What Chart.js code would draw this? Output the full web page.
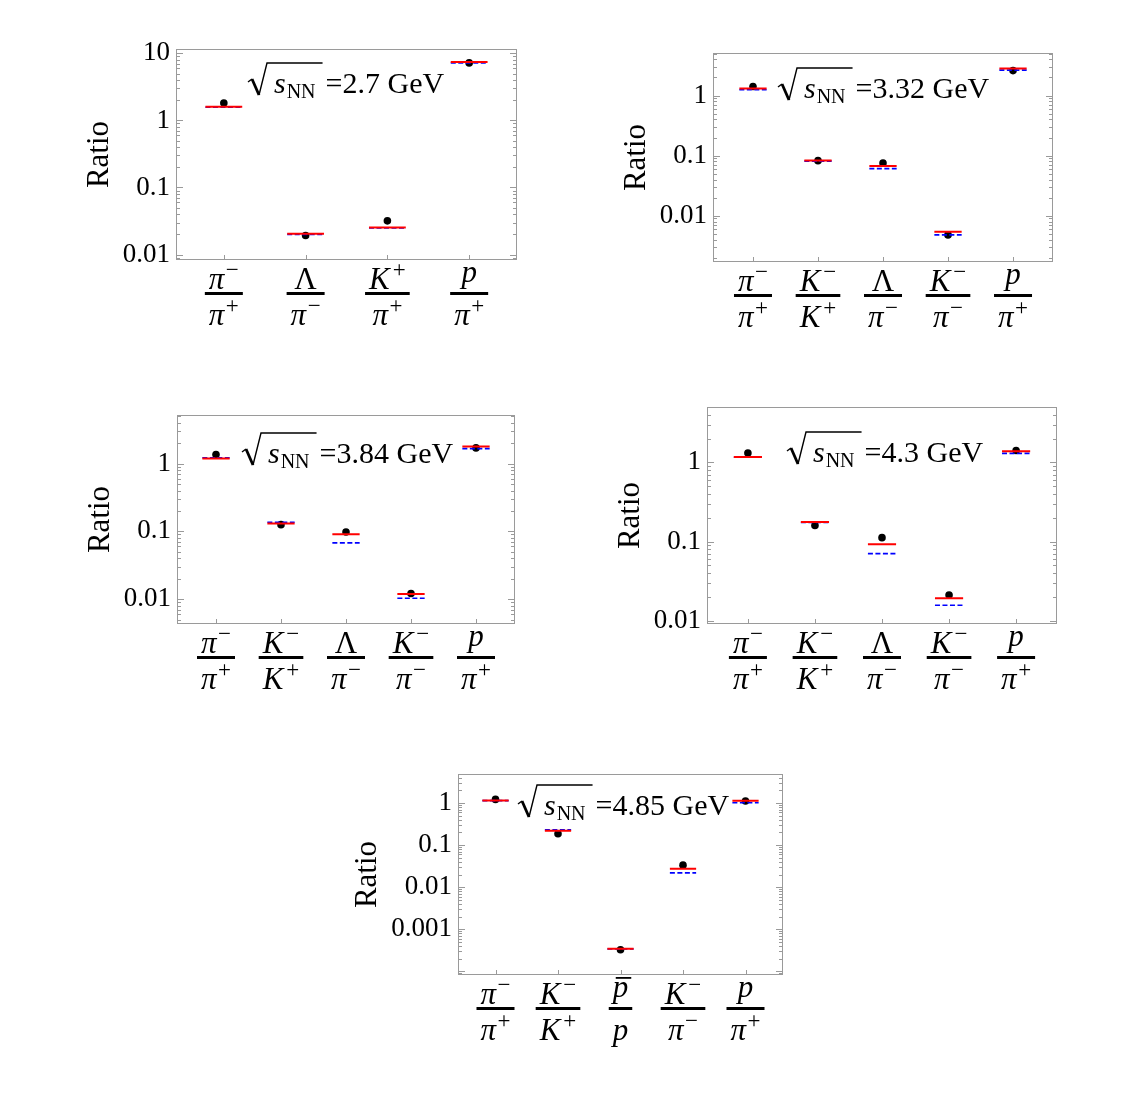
<!DOCTYPE html>
<html>
<head>
<meta charset="utf-8">
<script src="https://cdn.jsdelivr.net/npm/chart.js@4.4.1/dist/chart.umd.min.js"></script>
<style>
    body { margin: 0; background: #fff; }
    #wrap { position: relative; width: 1146px; height: 1097px; background: #fff; }
    canvas { position: absolute; }
</style>
</head>
<body>
<div id="wrap"></div>
<script>
const serif = '"Liberation Serif", "Times New Roman", serif';

// sqrt(s_NN) = 2.7 GeV
const cats27 = ["π⁻/π⁺", "Λ/π⁻", "K⁺/π⁺", "p/π⁺"];
const data27 = [1.82, 0.0192, 0.0318, 7.2];
const red27 = [1.6, 0.0204, 0.0253, 7.4];
const blue27 = [1.57, 0.0200, 0.0250, 7.2];
const ticks27 = [0.01, 0.1, 1, 10];
const tickLabels27 = ["0.01", "0.1", "1", "10"];

// 3.32 GeV
const cats332 = ["π⁻/π⁺", "K⁻/K⁺", "Λ/π⁻", "K⁻/π⁻", "p/π⁺"];
const data332 = [1.41, 0.0825, 0.0755, 0.0048, 2.6];
const red332 = [1.31, 0.083, 0.0673, 0.0054, 2.82];
const blue332 = [1.25, 0.081, 0.0607, 0.0048, 2.65];
const ticks332 = [0.01, 0.1, 1];
const tickLabels332 = ["0.01", "0.1", "1"];

// 3.84 GeV
const cats384 = ["π⁻/π⁺", "K⁻/K⁺", "Λ/π⁻", "K⁻/π⁻", "p/π⁺"];
const data384 = [1.36, 0.1256, 0.098, 0.0121, 1.70];
const red384 = [1.19, 0.13, 0.0904, 0.0119, 1.79];
const blue384 = [1.22, 0.136, 0.0676, 0.0103, 1.66];
const ticks384 = [0.01, 0.1, 1];
const tickLabels384 = ["0.01", "0.1", "1"];

// 4.3 GeV
const cats43 = ["π⁻/π⁺", "K⁻/K⁺", "Λ/π⁻", "K⁻/π⁻", "p/π⁺"];
const data43 = [1.31, 0.16, 0.112, 0.0211, 1.41];
const red43 = [1.17, 0.176, 0.0927, 0.0192, 1.38];
const blue43 = [1.16, 0.174, 0.0705, 0.0157, 1.30];
const ticks43 = [0.01, 0.1, 1];
const tickLabels43 = ["0.01", "0.1", "1"];

// 4.85 GeV
const cats485 = ["π⁻/π⁺", "K⁻/K⁺", "p\u0304/p", "K⁻/π⁻", "p/π⁺"];
const data485 = [1.22, 0.186, 0.000327, 0.0334, 1.12];
const red485 = [1.15, 0.219, 0.000345, 0.0273, 1.14];
const blue485 = [1.14, 0.23, 0.00034, 0.0219, 1.02];
const ticks485 = [0.001, 0.01, 0.1, 1];
const tickLabels485 = ["0.001", "0.01", "0.1", "1"];

const panels = [
    { energy: "2.7", cats: cats27, data: data27, red: red27, blue: blue27, ticks: ticks27, tickLabels: tickLabels27,
      frame: { l: 176, t: 49, r: 517, b: 260 }, yRange: [0.0083, 11.6], xRange: [0.415, 4.585], half: 0.225, yW: 95, label: [72, 44] },
    { energy: "3.32", cats: cats332, data: data332, red: red332, blue: blue332, ticks: ticks332, tickLabels: tickLabels332,
      frame: { l: 713, t: 53, r: 1053, b: 262 }, yRange: [0.0017, 5.1], xRange: [0.385, 5.615], half: 0.21, yW: 95, label: [65, 45] },
    { energy: "3.84", cats: cats384, data: data384, red: red384, blue: blue384, ticks: ticks384, tickLabels: tickLabels384,
      frame: { l: 177, t: 415, r: 515, b: 624 }, yRange: [0.0043, 5.2], xRange: [0.4, 5.6], half: 0.21, yW: 95, label: [65, 48] },
    { energy: "4.3", cats: cats43, data: data43, red: red43, blue: blue43, ticks: ticks43, tickLabels: tickLabels43,
      frame: { l: 707, t: 407, r: 1057, b: 624 }, yRange: [0.0091, 5.0], xRange: [0.39, 5.61], half: 0.21, yW: 95, label: [80, 55] },
    { energy: "4.85", cats: cats485, data: data485, red: red485, blue: blue485, ticks: ticks485, tickLabels: tickLabels485,
      frame: { l: 458, t: 774, r: 783, b: 975 }, yRange: [0.000082, 4.9], xRange: [0.4, 5.6], half: 0.21, yW: 109, label: [60, 41] },
];

function segments(vals, half) {
    const pts = [];
    vals.forEach((v, i) => {
        pts.push({ x: i + 1 - half, y: v }, { x: i + 1 + half, y: v }, { x: i + 1.5, y: null });
    });
    return pts;
}

function sideItems(s) {
    const items = [];
    for (const ch of s) {
        if (ch === "⁻" || ch === "⁺") items.push({ t: ch === "⁻" ? "\u2212" : "+", sup: true });
        else if (ch === "\u0304") items[items.length - 1].over = true;
        else items.push({ t: ch, italic: ch !== "Λ" });
    }
    return items;
}

function fontOf(it) {
    return it.sup ? `23px ${serif}` : `${it.italic ? "italic " : ""}31px ${serif}`;
}

function layoutSide(ctx, s) {
    const items = sideItems(s);
    let w = 0, desc = 0;
    items.forEach((it, k) => {
        ctx.font = fontOf(it);
        if (it.sup && k > 0 && items[k - 1].italic) w += items[k - 1].t === "K" ? 3 : 1.5;
        it.dx = w;
        const m = ctx.measureText(it.t);
        it.w = m.width;
        w += m.width;
        if (!it.sup) desc = Math.max(desc, m.actualBoundingBoxDescent);
    });
    return { items, w, desc };
}

function drawSide(ctx, side, x, base) {
    side.items.forEach((it) => {
        ctx.font = fontOf(it);
        ctx.fillText(it.t, x + it.dx, it.sup ? base - 12 : base);
        if (it.over) ctx.fillRect(x + it.dx + 3, base - 20, it.w, 1.8);
    });
}

function drawEnergy(ctx, x, B, energy) {
    ctx.font = `italic 30px ${serif}`;
    const sx = x + 26;
    ctx.fillText("s", sx, B);
    const nx = sx + ctx.measureText("s").width + 1;
    ctx.font = `20px ${serif}`;
    ctx.fillText("NN", nx, B + 5);
    const barEnd = nx + ctx.measureText("NN").width + 7;

    ctx.strokeStyle = "#000";
    ctx.lineCap = "butt";
    ctx.lineWidth = 1.4;
    ctx.beginPath();
    ctx.moveTo(x, B - 11);
    ctx.lineTo(x + 4, B - 14);
    ctx.stroke();
    ctx.lineWidth = 2.8;
    ctx.beginPath();
    ctx.moveTo(x + 4, B - 14);
    ctx.lineTo(x + 11, B + 2);
    ctx.stroke();
    ctx.lineWidth = 1.4;
    ctx.beginPath();
    ctx.moveTo(x + 11, B + 2);
    ctx.lineTo(x + 19, B - 30);
    ctx.lineTo(barEnd, B - 30);
    ctx.stroke();

    ctx.font = `30px ${serif}`;
    ctx.fillText("=" + energy + " GeV", barEnd + 3, B);
}

const decor = {
    id: "decor",
    beforeDatasetsDraw(chart, args, opts) {
        const { ctx, chartArea: a, scales } = chart;
        const y = scales.y, x = scales.x;
        ctx.save();
        ctx.strokeStyle = "#9a9a9a";
        ctx.lineWidth = 1;
        ctx.beginPath();
        const e0 = Math.floor(Math.log10(y.min)), e1 = Math.ceil(Math.log10(y.max));
        for (let e = e0; e <= e1; e++) {
            for (let m = 1; m <= 9; m++) {
                const v = m * Math.pow(10, e);
                if (v < y.min || v > y.max) continue;
                const py = Math.round(y.getPixelForValue(v)) + 0.5;
                const len = m === 1 ? 7 : 4;
                ctx.moveTo(a.left, py);
                ctx.lineTo(a.left + len, py);
                ctx.moveTo(a.right, py);
                ctx.lineTo(a.right - len, py);
            }
        }
        opts.cats.forEach((c, i) => {
            const px = Math.round(x.getPixelForValue(i + 1)) + 0.5;
            ctx.moveTo(px, a.bottom);
            ctx.lineTo(px, a.bottom - 5);
        });
        ctx.stroke();
        ctx.strokeRect(a.left + 0.5, a.top + 0.5, a.right - a.left - 1, a.bottom - a.top - 1);
        ctx.restore();
    },
    afterDraw(chart, args, opts) {
        const { ctx, chartArea: a, scales } = chart;
        ctx.save();
        ctx.fillStyle = "#000";
        ctx.textBaseline = "alphabetic";
        ctx.textAlign = "left";
        drawEnergy(ctx, a.left + opts.label[0], a.top + opts.label[1], opts.energy);

        opts.cats.forEach((c, i) => {
            const [num, den] = c.split("/");
            const cx = scales.x.getPixelForValue(i + 1);
            const n = layoutSide(ctx, num), d = layoutSide(ctx, den);
            const bw = Math.max(n.w, d.w) + 8;
            const barY = a.bottom + 32;
            ctx.fillRect(cx - bw / 2, barY, bw, 3);
            drawSide(ctx, n, cx - n.w / 2, barY - 3 - n.desc);
            drawSide(ctx, d, cx - d.w / 2, a.bottom + 65);
        });
        ctx.restore();
    },
};

const wrap = document.getElementById("wrap");

panels.forEach((p) => {
    const padT = 25, padR = 25, xH = 80;
    const f = p.frame;
    const c = document.createElement("canvas");
    c.width = (f.r - f.l) + p.yW + padR;
    c.height = (f.b - f.t) + padT + xH;
    c.style.left = (f.l - p.yW) + "px";
    c.style.top = (f.t - padT) + "px";
    wrap.appendChild(c);

    new Chart(c, {
        type: "scatter",
        data: {
            datasets: [
                {
                    data: segments(p.red, p.half),
                    showLine: true,
                    borderColor: "#ff0000",
                    borderWidth: 2,
                    pointRadius: 0,
                    spanGaps: false,
                    order: 0,
                },
                {
                    data: segments(p.blue, p.half),
                    showLine: true,
                    borderColor: "#0000ff",
                    borderWidth: 1.6,
                    borderDash: [5, 2.5],
                    pointRadius: 0,
                    spanGaps: false,
                    order: 1,
                },
                {
                    data: p.data.map((v, i) => ({ x: i + 1, y: v })),
                    showLine: false,
                    pointRadius: 3.8,
                    pointBackgroundColor: "#000",
                    pointBorderWidth: 0,
                    order: 2,
                },
            ],
        },
        options: {
            responsive: false,
            devicePixelRatio: 1,
            animation: false,
            events: [],
            layout: { padding: { top: padT, right: padR, left: 0, bottom: 0 } },
            plugins: {
                legend: { display: false },
                tooltip: { enabled: false },
                decor: { cats: p.cats, energy: p.energy, label: p.label },
            },
            scales: {
                x: {
                    type: "linear",
                    min: p.xRange[0],
                    max: p.xRange[1],
                    ticks: { display: false },
                    grid: { display: false, drawTicks: false },
                    border: { display: false },
                    afterFit: (scale) => {
                        scale.height = xH;
                        scale.paddingLeft = 0;
                        scale.paddingRight = 0;
                    },
                },
                y: {
                    type: "logarithmic",
                    min: p.yRange[0],
                    max: p.yRange[1],
                    bounds: "data",
                    afterBuildTicks: (scale) => {
                        scale.ticks = p.ticks.map((v) => ({ value: v }));
                    },
                    ticks: {
                        padding: 6,
                        color: "#000",
                        font: { family: serif, size: 27 },
                        callback: (v) => p.tickLabels[p.ticks.indexOf(v)],
                    },
                    grid: { display: false, drawTicks: false },
                    border: { display: false },
                    title: {
                        display: true,
                        text: "Ratio",
                        color: "#000",
                        font: { family: serif, size: 31 },
                        padding: 0,
                    },
                    afterFit: (scale) => {
                        scale.width = p.yW;
                        scale.paddingTop = 0;
                        scale.paddingBottom = 0;
                    },
                },
            },
        },
        plugins: [decor],
    });
});
</script>
</body>
</html>
